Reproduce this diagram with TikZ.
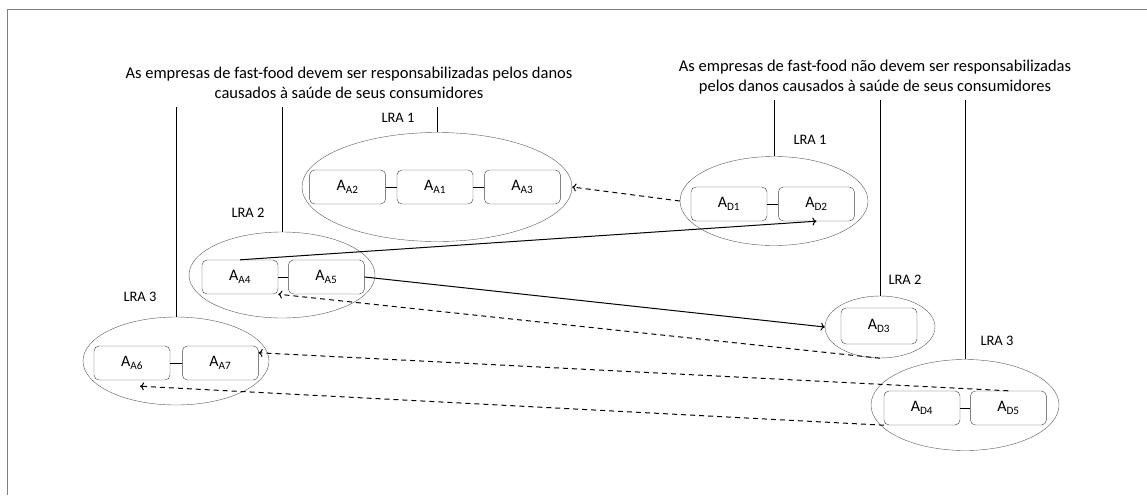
\documentclass[tikz,border=0pt]{standalone}
\usepackage{fontspec}
\setmainfont{Carlito}
\usetikzlibrary{positioning}
\usetikzlibrary{shapes.geometric}
\usetikzlibrary{arrows.meta}

\tikzset{
  arg/.style={draw=black!75, rounded corners=5pt, minimum width=76pt, minimum height=34pt, inner sep=0pt, font=\fontsize{16}{18}\selectfont},
  lra/.style={draw=black!65, ellipse, inner sep=0pt},
  lbl/.style={font=\fontsize{14.5}{16}\selectfont},
  ttl/.style={align=center, font=\fontsize{16.5}{20}\selectfont},
  att/.style={-{To[length=4pt,width=8pt]}, dash pattern=on 5pt off 4pt, line width=1pt},
  sup/.style={-{To[length=4pt,width=8pt]}, line width=1pt},
}
\newcommand{\Asub}[1]{A\textsubscript{#1}}

\begin{document}
\begin{tikzpicture}[x=1pt, y=-1pt, node distance=11pt]
  \useasboundingbox (0,0) rectangle (1147,495);
  \draw[gray, line width=1.5pt] (7.5,495) -- (7.5,9.5) -- (1147,9.5);

  % titles
  \node[ttl] (ta) at (349,83) {As empresas de fast-food devem ser responsabilizadas pelos danos\\causados à saúde de seus consumidores};
  \node[ttl] (td) at (875,77) {As empresas de fast-food não devem ser responsabilizadas\\pelos danos causados à saúde de seus consumidores};

  % side A
  \node[lra, minimum width=270pt, minimum height=109pt] (al1) at (437,187) {};
  \node[arg] (aa1) at (435,187) {\Asub{A1}};
  \node[arg, left=of aa1] (aa2) {\Asub{A2}};
  \node[arg, right=of aa1] (aa3) {\Asub{A3}};

  \node[lra, minimum width=186pt, minimum height=86pt] (al2) at (282,275) {};
  \node[arg] (aa4) at (240,277) {\Asub{A4}};
  \node[arg, right=10pt of aa4] (aa5) {\Asub{A5}};

  \node[lra, minimum width=186pt, minimum height=88pt] (al3) at (176,361) {};
  \node[arg] (aa6) at (132,363) {\Asub{A6}};
  \node[arg, right=12pt of aa6] (aa7) {\Asub{A7}};

  % side D
  \node[lra, minimum width=188pt, minimum height=89pt] (dl1) at (774,201) {};
  \node[arg] (ad1) at (729,204) {\Asub{D1}};
  \node[arg, right=of ad1] (ad2) {\Asub{D2}};

  \node[lra, minimum width=110pt, minimum height=62pt] (dl2) at (880,327) {};
  \node[arg, minimum height=36pt] (ad3) at (879,326) {\Asub{D3}};

  \node[lra, minimum width=188pt, minimum height=91pt] (dl3) at (965,405) {};
  \node[arg] (ad4) at (922,408) {\Asub{D4}};
  \node[arg, right=10pt of ad4] (ad5) {\Asub{D5}};

  % labels
  \node[lbl] (la1) at (398,118) {LRA 1};
  \node[lbl] (la2) at (248,213) {LRA 2};
  \node[lbl] (la3) at (140,297) {LRA 3};
  \node[lbl] (ld1) at (810,140) {LRA 1};
  \node[lbl] (ld2) at (905,280) {LRA 2};
  \node[lbl] (ld3) at (997,341) {LRA 3};

  % stems
  \coordinate (ka1) at (al1.north |- 0,107);
  \coordinate (ka2) at (al2.north |- 0,107);
  \coordinate (ka3) at (al3.north |- 0,107);
  \coordinate (kd1) at (dl1.north |- 0,100);
  \coordinate (kd2) at (dl2.north |- 0,100);
  \coordinate (kd3) at (dl3.north |- 0,100);
  \draw[line width=1pt] (ka1) -- (al1.north);
  \draw[line width=1pt] (ka2) -- (al2.north);
  \draw[line width=1pt] (ka3) -- (al3.north);
  \draw[line width=1pt] (kd1) -- (dl1.north);
  \draw[line width=1pt] (kd2) -- (dl2.north);
  \draw[line width=1pt] (kd3) -- (dl3.north);

  % links inside groups
  \draw[line width=1pt] (aa2) -- (aa1);
  \draw[line width=1pt] (aa1) -- (aa3);
  \draw[line width=1pt] (aa4) -- (aa5);
  \draw[line width=1pt] (aa6) -- (aa7);
  \draw[line width=1pt] (ad1) -- (ad2);
  \draw[line width=1pt] (ad4) -- (ad5);

  % support and attack
  \draw[sup] (aa4.north) -- (ad2.south);
  \draw[sup] (aa5.east) -- (dl2.west);
  \draw[att] (dl1.west) -- (al1.east);
  \draw[att] (dl2.south) -- (aa4.south east);
  \draw[att] (ad5.north) -- (aa7.15);
  \draw[att] (ad4.south west) -- ([xshift=8pt,yshift=-6pt]aa6.south);
\end{tikzpicture}
\end{document}
